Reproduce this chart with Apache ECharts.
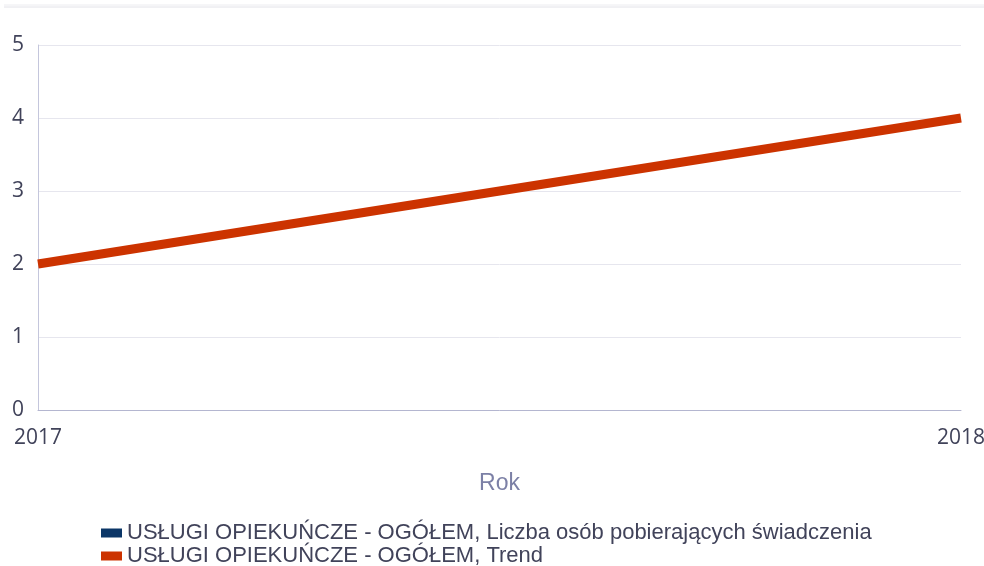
<!DOCTYPE html>
<html>
<head>
<meta charset="utf-8">
<script src="https://cdn.jsdelivr.net/npm/echarts@6/dist/echarts.min.js"></script>
<style>
  html, body { margin: 0; padding: 0; background: #fff; }
  #chart { width: 984px; height: 566px; }
</style>
</head>
<body>
<div id="chart"></div>
<script>
const years = ['2017', '2018'];
const liczbaOsob = [null, null];   // seria bez widocznych wartości
const trend = [2, 4];
const seriesNames = [
    'USŁUGI OPIEKUŃCZE - OGÓŁEM, Liczba osób pobierających świadczenia',
    'USŁUGI OPIEKUŃCZE - OGÓŁEM, Trend'
];

const textColor = '#41435a';

const chart = echarts.init(document.getElementById('chart'));

chart.setOption({
    animation: false,
    textStyle: { fontFamily: 'Open Sans' },
    graphic: [
        { type: 'line', shape: { x1: 4, y1: 5, x2: 984, y2: 5 }, style: { stroke: '#ececf0', lineWidth: 1 } },
        { type: 'line', shape: { x1: 4, y1: 7, x2: 984, y2: 7 }, style: { stroke: '#e2e2e8', lineWidth: 1 } }
    ],
    grid: { left: 38, right: 23, top: 45, bottom: 156, outerBoundsMode: 'none' },
    legend: {
        orient: 'vertical',
        left: 96,
        top: 517,
        height: 80,
        itemWidth: 21,
        itemHeight: 9,
        itemGap: 1,
        icon: 'rect',
        textStyle: { color: textColor, fontSize: 22, lineHeight: 22, fontFamily: 'Liberation Sans' },
        data: seriesNames
    },
    xAxis: {
        type: 'category',
        data: years,
        boundaryGap: false,
        name: 'Rok',
        nameLocation: 'middle',
        nameGap: 62,
        nameTextStyle: { color: '#7c80a6', fontSize: 23, fontFamily: 'Liberation Sans' },
        axisLine: { lineStyle: { color: '#b4b6d0', width: 1 } },
        axisTick: { show: false },
        axisLabel: { color: textColor, fontSize: 21, margin: 18 }
    },
    yAxis: {
        type: 'value',
        min: 0,
        max: 5,
        interval: 1,
        axisLine: { show: true, lineStyle: { color: '#c4c6dc', width: 1 } },
        axisTick: { show: false },
        axisLabel: { color: textColor, fontSize: 21, margin: 14 },
        splitLine: { lineStyle: { color: '#e6e6ee', width: 1 } }
    },
    series: [
        {
            name: seriesNames[0],
            type: 'line',
            data: liczbaOsob,
            color: '#0b3667',
            symbol: 'none',
            lineStyle: { width: 9 }
        },
        {
            name: seriesNames[1],
            type: 'line',
            data: trend,
            color: '#cc3300',
            symbol: 'none',
            lineStyle: { width: 9 }
        }
    ]
});
</script>
</body>
</html>
